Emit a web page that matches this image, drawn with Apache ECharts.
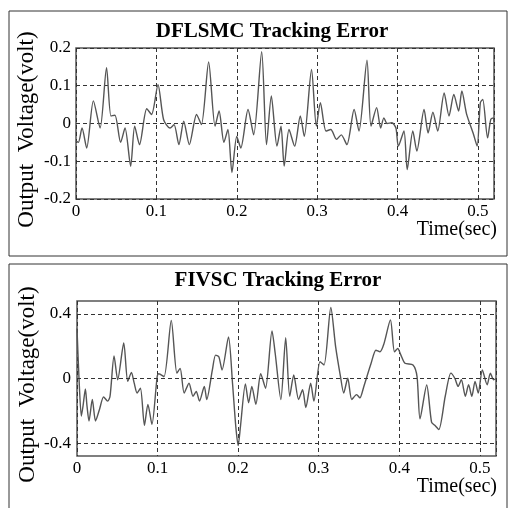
<!DOCTYPE html>
<html>
<head>
<meta charset="utf-8">
<script src="https://cdn.jsdelivr.net/npm/echarts@6/dist/echarts.min.js"></script>
<style>
  html, body { margin: 0; padding: 0; background: #fff; }
  #chart { width: 509px; height: 508px; }
</style>
</head>
<body>
<div id="chart"></div>
<script>
// DFLSMC 误差曲线 (时间 s, 电压 V)
const dflTime = [0, 0.003, 0.0075, 0.0133, 0.0216, 0.03, 0.038, 0.0435, 0.0485, 0.0555, 0.061, 0.068, 0.073, 0.079, 0.088, 0.094,
  0.102, 0.109, 0.117, 0.122, 0.128, 0.134, 0.141, 0.15, 0.156, 0.165, 0.173, 0.178, 0.184, 0.189, 0.194,
  0.2, 0.205, 0.214, 0.221, 0.231, 0.237, 0.243, 0.25, 0.255, 0.259, 0.265, 0.272, 0.279, 0.284, 0.293, 0.299,
  0.304, 0.311, 0.317, 0.324, 0.33, 0.337, 0.346, 0.352, 0.362, 0.367, 0.374, 0.379, 0.383, 0.387, 0.393, 0.398,
  0.401, 0.408, 0.412, 0.419, 0.424, 0.433, 0.438, 0.444, 0.45, 0.458, 0.464, 0.47, 0.476, 0.48, 0.486, 0.494,
  0.499, 0.503, 0.506, 0.512, 0.516, 0.519, 0.52];
const dflErr = [-0.047, -0.05, -0.012, -0.065, 0.06, -0.012, 0.148, 0.02, 0.022, -0.05, -0.012, -0.113, -0.007, -0.056, 0.039, 0.024,
  0.103, 0.01, -0.012, -0.003, -0.056, 0.006, -0.056, 0.024, -0.003, 0.163, -0.007, 0.033, -0.05, -0.016, -0.13,
  -0.034, -0.065, 0.037, -0.03, 0.19, -0.056, 0.073, -0.06, -0.007, -0.113, -0.016, -0.06, 0.02, -0.034, 0.143, -0.007,
  0.055, -0.02, -0.016, -0.042, -0.03, -0.056, 0.037, -0.02, 0.168, -0.007, 0.042, -0.012, 0.015, 0.0, 0.002, -0.012,
  -0.06, -0.02, -0.122, -0.02, -0.073, 0.037, -0.025, 0.03, -0.02, 0.081, 0.02, 0.077, 0.033, 0.086, 0.024, -0.025,
  -0.06, 0.055, 0.064, -0.038, 0.011, 0.015, 0.005];

// FIVSC 误差曲线
const fivTime = [0, 0.0025, 0.0054, 0.0075, 0.0104, 0.0124, 0.0149, 0.019, 0.023, 0.028, 0.033, 0.038, 0.041, 0.046, 0.0505, 0.058,
  0.063, 0.0675, 0.071, 0.0746, 0.0787, 0.0837, 0.088, 0.093, 0.0995, 0.1015, 0.108, 0.117, 0.124, 0.128, 0.133,
  0.139, 0.144, 0.148, 0.152, 0.158, 0.161, 0.168, 0.172, 0.176, 0.18, 0.188, 0.193, 0.197, 0.2, 0.203, 0.209,
  0.213, 0.217, 0.222, 0.228, 0.234, 0.242, 0.246, 0.253, 0.259, 0.264, 0.269, 0.275, 0.28, 0.284, 0.29, 0.294,
  0.3016, 0.3066, 0.315, 0.321, 0.327, 0.331, 0.336, 0.341, 0.347, 0.351, 0.356, 0.365, 0.371, 0.376, 0.381, 0.389,
  0.394, 0.398, 0.402, 0.407, 0.417, 0.422, 0.4257, 0.434, 0.44, 0.444, 0.449, 0.457, 0.464, 0.469, 0.473, 0.477,
  0.482, 0.486, 0.49, 0.494, 0.498, 0.503, 0.509, 0.513, 0.517, 0.52];
const fivErr = [0.31, 0, -0.233, -0.17, -0.065, -0.17, -0.263, -0.13, -0.263, -0.19, -0.114, -0.14, -0.11, 0.139, -0.008, 0.22,
  -0.018, 0.037, -0.029, -0.09, -0.06, -0.29, -0.16, -0.284, 0.012, 0.029, 0.012, 0.36, 0.033, 0.063, -0.09,
  -0.029, -0.11, -0.08, -0.14, -0.049, -0.13, 0.053, 0.145, 0.135, 0.053, 0.257, -0.029, -0.294, -0.416, -0.29, -0.033,
  -0.15, -0.049, -0.16, 0.029, -0.06, 0.294, 0.155, -0.13, 0.253, -0.11, 0.022, -0.13, -0.069, -0.18, -0.029, -0.14,
  0.104, 0.084, 0.44, 0.196, 0.012, -0.09, 0.002, -0.13, -0.1, -0.12, -0.049, 0.094, 0.175, 0.165, 0.216, 0.363,
  0.165, 0.186, 0.145, 0.094, 0.084, 0.012, -0.25, -0.04, -0.27, -0.29, -0.316, -0.11, 0.033, 0, -0.049, -0.008,
  -0.11, -0.039, -0.11, -0.018, -0.09, 0.053, -0.039, 0.033, -0.008, 0];

const fivGridY = [-0.4, 0, 0.4];

const serifFont = '"Liberation Serif", "Times New Roman", serif';
const dashStyle = { type: [4, 3], color: '#333', width: 1 };

const chart = echarts.init(document.getElementById('chart'));

function xAxisOf(gridIndex) {
  return {
    gridIndex: gridIndex,
    type: 'value',
    min: 0,
    max: 0.52,
    interval: 0.1,
    axisLine: { show: false },
    axisTick: { show: false },
    axisLabel: {
      showMaxLabel: false,
      margin: 4,
      color: '#000',
      fontFamily: serifFont,
      fontSize: 17,
      formatter: v => (v === 0 ? '0' : v.toFixed(1))
    },
    splitLine: { show: true, lineStyle: dashStyle }
  };
}

// 纵轴名称稍微下移一点
const yNameStyle = { color: '#000', fontFamily: serifFont, fontSize: 23, padding: [0, 12, 0, 0] };

const option = {
  backgroundColor: '#fff',
  animation: false,
  graphic: [
    // 外框
    { type: 'rect', shape: { x: 9, y: 11, width: 498, height: 245 }, style: { fill: 'none', stroke: '#333', lineWidth: 1 } },
    { type: 'rect', shape: { x: 9, y: 264, width: 498, height: 260 }, style: { fill: 'none', stroke: '#333', lineWidth: 1 } },
    { type: 'text', style: { text: 'DFLSMC Tracking Error', x: 272, y: 32, textAlign: 'center', textVerticalAlign: 'middle', fill: '#000', font: 'bold 21px ' + serifFont } },
    { type: 'text', style: { text: 'FIVSC Tracking Error', x: 278, y: 281, textAlign: 'center', textVerticalAlign: 'middle', fill: '#000', font: 'bold 21px ' + serifFont } },
    { type: 'text', style: { text: 'Time(sec)', x: 497, y: 230, textAlign: 'right', textVerticalAlign: 'middle', fill: '#000', font: '20px ' + serifFont } },
    { type: 'text', style: { text: 'Time(sec)', x: 497, y: 487, textAlign: 'right', textVerticalAlign: 'middle', fill: '#000', font: '20px ' + serifFont } }
  ],
  grid: [
    { left: 76, top: 48, width: 418, height: 151, show: true, borderColor: '#555', borderWidth: 1.5, backgroundColor: 'transparent' },
    { left: 77, top: 301, width: 419, height: 155, show: true, borderColor: '#555', borderWidth: 1.5, backgroundColor: 'transparent' }
  ],
  xAxis: [xAxisOf(0), xAxisOf(1)],
  yAxis: [
    {
      gridIndex: 0,
      type: 'value',
      min: -0.2,
      max: 0.2,
      interval: 0.1,
      name: 'Output  Voltage(volt)',
      nameLocation: 'middle',
      nameGap: 38,
      nameMoveOverlap: false,
      nameTextStyle: yNameStyle,
      axisLine: { show: false },
      axisTick: { show: false },
      axisLabel: { margin: 5, color: '#000', fontFamily: serifFont, fontSize: 17, formatter: v => (Math.abs(v) < 1e-9 ? '0' : v.toFixed(1)) },
      splitLine: { show: true, lineStyle: dashStyle }
    },
    {
      gridIndex: 1,
      type: 'value',
      min: -0.48,
      max: 0.48,
      interval: 0.08,
      name: 'Output  Voltage(volt)',
      nameLocation: 'middle',
      nameGap: 38,
      nameMoveOverlap: false,
      nameTextStyle: yNameStyle,
      axisLine: { show: false },
      axisTick: { show: false },
      axisLabel: {
        margin: 6, color: '#000', fontFamily: serifFont, fontSize: 17,
        formatter: v => {
          if (Math.abs(v) < 1e-9) return '0';
          if (Math.abs(Math.abs(v) - 0.4) < 1e-6) return v.toFixed(1);
          return '';
        }
      },
      splitLine: { show: false }
    }
  ],
  series: [
    {
      type: 'line',
      xAxisIndex: 0,
      yAxisIndex: 0,
      data: dflTime.map((t, i) => [t, dflErr[i]]),
      showSymbol: false,
      smooth: 0.25,
      lineStyle: { color: '#555', width: 1.4 }
    },
    {
      type: 'line',
      xAxisIndex: 1,
      yAxisIndex: 1,
      data: fivTime.map((t, i) => [t, fivErr[i]]),
      showSymbol: false,
      smooth: 0.25,
      lineStyle: { color: '#555', width: 1.4 },
      markLine: {
        silent: true,
        symbol: 'none',
        label: { show: false },
        lineStyle: dashStyle,
        data: fivGridY.map(v => ({ yAxis: v }))
      }
    }
  ]
};

chart.setOption(option);
</script>
</body>
</html>
